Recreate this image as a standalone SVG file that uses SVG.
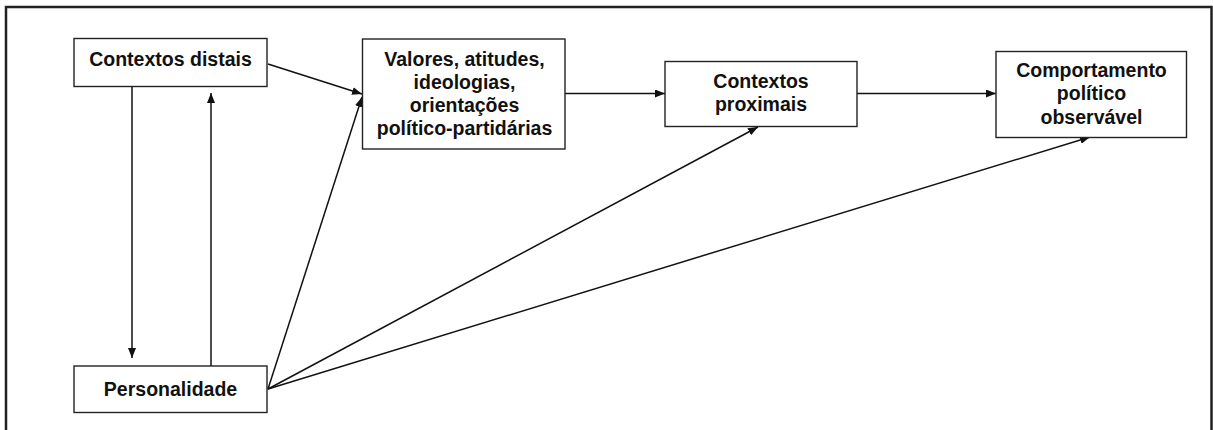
<svg xmlns="http://www.w3.org/2000/svg" width="1213" height="430" viewBox="0 0 1213 430">
<style>
.box{fill:#fff;stroke:#222;stroke-width:1.4}
.t{font-family:"Liberation Sans",Arial,sans-serif;font-weight:bold;font-size:19.5px;fill:#111;text-anchor:middle}
.c{stroke:#111;stroke-width:1.5;fill:none;marker-end:url(#a)}
</style>
<defs>
<marker id="a" markerWidth="10" markerHeight="8" refX="10" refY="4" orient="auto" markerUnits="userSpaceOnUse">
<path d="M0,0 L10,4 L0,8 z" fill="#111"/>
</marker>
</defs>
<rect x="0" y="0" width="1213" height="430" fill="#fff"/>
<path d="M6,434 L6,7 L1211.5,7 L1211.5,434" fill="none" stroke="#222" stroke-width="2.5"/>
<g id="connectors">
<line class="c" x1="132" y1="87" x2="132" y2="358"/>
<line class="c" x1="211" y1="366" x2="211" y2="93"/>
<line class="c" x1="268" y1="64" x2="362" y2="94"/>
<line class="c" x1="268" y1="389" x2="362" y2="97"/>
<line class="c" x1="268" y1="389" x2="758" y2="127"/>
<line class="c" x1="268" y1="389" x2="1090" y2="137"/>
<line class="c" x1="565" y1="93.5" x2="665" y2="93.5"/>
<line class="c" x1="857" y1="93.5" x2="996" y2="93.5"/>
</g>
<g id="contextos-distais">
<rect class="box" x="74" y="38.5" width="193" height="48"/>
<text class="t" x="170.5" y="65.5">Contextos distais</text>
</g>
<g id="personalidade">
<rect class="box" x="74" y="366" width="193" height="46.5"/>
<text class="t" x="170.5" y="396">Personalidade</text>
</g>
<g id="valores">
<rect class="box" x="362.5" y="39" width="202.5" height="110"/>
<text class="t" x="464.5" y="65.7">Valores, atitudes,</text>
<text class="t" x="464.5" y="88.8">ideologias,</text>
<text class="t" x="464.5" y="111.9">orientações</text>
<text class="t" x="464.5" y="135">político-partidárias</text>
</g>
<g id="contextos-proximais">
<rect class="box" x="665" y="61.5" width="192" height="65"/>
<text class="t" x="761" y="88.3">Contextos</text>
<text class="t" x="761" y="111.3">proximais</text>
</g>
<g id="comportamento">
<rect class="box" x="996" y="51.5" width="190.5" height="86"/>
<text class="t" x="1091.5" y="76.7">Comportamento</text>
<text class="t" x="1091.5" y="100.2">político</text>
<text class="t" x="1091.5" y="123.7">observável</text>
</g>
</svg>
